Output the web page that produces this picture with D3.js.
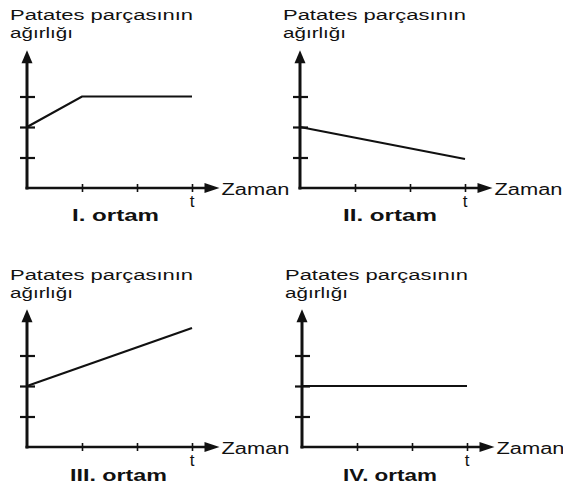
<!DOCTYPE html>
<html>
<head>
<meta charset="utf-8">
<script src="https://cdn.jsdelivr.net/npm/d3@7"></script>
<style>
  html, body { margin: 0; padding: 0; background: #fff; }
  svg { display: block; }
  text { font-family: "Liberation Sans", Arial, sans-serif; fill: #111; }
</style>
</head>
<body>
<svg id="chart" width="563" height="486"></svg>
<script>
// Potato piece weight over time in four different media
const mediumNames = ["I. ortam", "II. ortam", "III. ortam", "IV. ortam"];
const yAxisTitle = ["Patates parçasının", "ağırlığı"];
const xAxisTitle = "Zaman";
const endTimeLabel = "t";
const timeTicks = [1, 2, 3];
const weightTicks = [1, 2, 3];

// weight (in tick units) at each time step
const medium1 = [{ time: 0, weight: 2 }, { time: 1, weight: 3 }, { time: 3, weight: 3 }];
const medium2 = [{ time: 0, weight: 2 }, { time: 3, weight: 0.95 }];
const medium3 = [{ time: 0, weight: 2 }, { time: 3, weight: 3.9 }];
const medium4 = [{ time: 0, weight: 2 }, { time: 3, weight: 2 }];
const series = [medium1, medium2, medium3, medium4];

// panel layout: origin of each small chart
const panels = [
  { ox: 27,  oy: 188, titleY: 20,  labelY: 221, labelX: 72,  labelW: 87 },
  { ox: 300, oy: 188, titleY: 20,  labelY: 221, labelX: 343, labelW: 94 },
  { ox: 27,  oy: 447, titleY: 280, labelY: 481, labelX: 70,  labelW: 97 },
  { ox: 302, oy: 447, titleY: 280, labelY: 481, labelX: 343, labelW: 94 }
];

const xUnit = 55, yUnit = 30.5;
const svg = d3.select("#chart");

panels.forEach((p, i) => {
  const x = d3.scaleLinear().domain([0, 3]).range([p.ox, p.ox + 3 * xUnit]);
  const y = d3.scaleLinear().domain([0, 3]).range([p.oy, p.oy - 3 * yUnit]);
  const g = svg.append("g");

  // axis titles
  g.append("text").attr("x", p.ox - 17).attr("y", p.titleY)
    .attr("font-size", 15.5).attr("textLength", 183).attr("lengthAdjust", "spacingAndGlyphs")
    .text(yAxisTitle[0]);
  g.append("text").attr("x", p.ox - 17).attr("y", p.titleY + 17.5)
    .attr("font-size", 15.5).attr("textLength", 63).attr("lengthAdjust", "spacingAndGlyphs")
    .text(yAxisTitle[1]);

  // y ticks crossing the vertical axis
  const yAxis = d3.axisLeft(y).tickValues(weightTicks).tickSize(15).tickSizeOuter(0).tickFormat("");
  const ya = g.append("g").attr("transform", `translate(${p.ox + 8},0)`).call(yAxis);
  ya.select(".domain").remove();
  ya.selectAll(".tick line").attr("stroke", "#111").attr("stroke-width", 2.2);

  // x ticks crossing the horizontal axis
  const xAxis = d3.axisBottom(x).tickValues(timeTicks).tickSize(8).tickSizeOuter(0).tickFormat("");
  const xa = g.append("g").attr("transform", `translate(0,${p.oy - 4})`).call(xAxis);
  xa.select(".domain").remove();
  xa.selectAll(".tick line").attr("stroke", "#111").attr("stroke-width", 1.6);

  // vertical axis with arrow
  const yTop = y(4.52);
  g.append("line").attr("x1", p.ox).attr("x2", p.ox).attr("y1", p.oy + 1.5).attr("y2", yTop + 10)
    .attr("stroke", "#111").attr("stroke-width", 3);
  g.append("path")
    .attr("d", `M${p.ox},${yTop} L${p.ox - 5.5},${yTop + 13} L${p.ox + 5.5},${yTop + 13} Z`)
    .attr("fill", "#111");

  // horizontal axis with arrow
  const xTip = x(3.5);
  g.append("line").attr("x1", p.ox - 1.5).attr("x2", xTip - 12).attr("y1", p.oy).attr("y2", p.oy)
    .attr("stroke", "#111").attr("stroke-width", 2.6);
  g.append("path")
    .attr("d", `M${xTip},${p.oy} L${xTip - 15},${p.oy - 5} L${xTip - 15},${p.oy + 5} Z`)
    .attr("fill", "#111");

  g.append("text").attr("x", xTip + 2).attr("y", p.oy + 7)
    .attr("font-size", 16).attr("textLength", 68).attr("lengthAdjust", "spacingAndGlyphs")
    .text(xAxisTitle);
  g.append("text").attr("x", x(3)).attr("y", p.oy + 19).attr("text-anchor", "middle")
    .attr("font-size", 17).text(endTimeLabel);

  // medium label
  g.append("text").attr("x", p.labelX).attr("y", p.labelY)
    .attr("font-size", 16.5).attr("font-weight", "bold")
    .attr("textLength", p.labelW).attr("lengthAdjust", "spacingAndGlyphs")
    .text(mediumNames[i]);

  // weight line
  const line = d3.line().x(d => x(d.time)).y(d => y(d.weight));
  g.append("path").datum(series[i]).attr("d", line)
    .attr("fill", "none").attr("stroke", "#111").attr("stroke-width", 2.2)
    .attr("stroke-linejoin", "miter");
});
</script>
</body>
</html>
